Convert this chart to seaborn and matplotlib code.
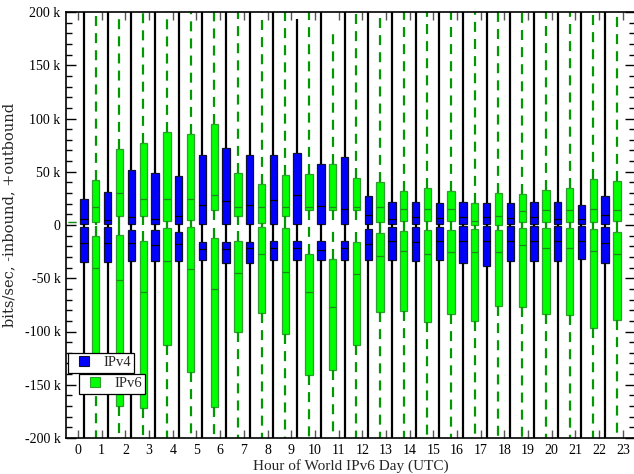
import numpy as np
import pandas as pd
import matplotlib
matplotlib.use("Agg")
import matplotlib.pyplot as plt
import seaborn as sns
from matplotlib.ticker import MultipleLocator, FuncFormatter, FixedLocator
from matplotlib.lines import Line2D

# ---------------- data (k bits/sec) ----------------
hours_v4 = [0, 1, 2, 3, 4, 5, 6, 7, 8, 9, 10, 11, 12, 13, 14, 15, 16, 17, 18, 19, 20, 21, 22]
hours_v6 = [0, 1, 2, 3, 4, 5, 6, 7, 8, 9, 10, 11, 12, 13, 14, 15, 16, 17, 18, 19, 20, 21, 22, 23]

# IPv4 outbound (positive)
v4_out_lo = [0, 0, 0, 0, 0, 0, 0, 0, 0, 0, 0, 0, 0, 0, 0, 0, 0, 0, 0, 0, 0, 0, 0]
v4_out_q1 = [1, 1, 0.7, 0.7, 0.7, 1, 1, 1, 1, 1, 1, 1, 1, 1, 1, 1, 0.6, 1, 1, 1, 1, 1, 1]
v4_out_med = [6, 5, 7.5, 6, 8, 19, 23, 19, 23.5, 27.9, 17.5, 14.7, 9, 5.3, 7.2, 6.3, 7.2, 7.2, 6.3, 7.2, 6, 5.6, 9]
v4_out_q3 = [24, 30.7, 51.3, 48.5, 45.7, 66, 72, 65.7, 65.7, 67.6, 57.3, 64, 27, 21.6, 21.9, 20.7, 21.6, 20.7, 20.7, 21.9, 21.3, 19, 26.9]
v4_out_hi = [250, 250, 250, 250, 250, 250, 250, 250, 250, 193, 250, 250, 250, 250, 250, 250, 250, 250, 250, 250, 250, 250, 250]

# IPv4 inbound (negative)
v4_in_lo = [-250, -250, -250, -250, -250, -250, -250, -250, -250, -250, -250, -250, -250, -250, -250, -250, -250, -250, -250, -250, -250, -250, -250]
v4_in_q1 = [-34.4, -35, -33.5, -33.5, -33.5, -32.9, -36, -36, -33.2, -33.2, -33.2, -33.2, -33.2, -33.2, -34, -33.2, -36, -38.5, -33.5, -33.5, -33.5, -32.2, -36]
v4_in_med = [-16.6, -17.2, -17, -18.5, -18, -22.5, -22.5, -21.6, -21.9, -21.6, -23.5, -21.9, -18.2, -14.7, -16.3, -15.3, -15, -15, -15, -15, -15, -15, -17.2]
v4_in_q3 = [-2.2, -2.2, -4.7, -4.7, -6.9, -15.6, -15.6, -15.6, -14.7, -15, -14.7, -14.7, -4.1, -1.6, -2.2, -1.6, -0.9, -0.9, -0.9, -0.9, -0.9, -0.9, -2.2]
v4_in_hi = [0, 0, 0, 0, 0, 0, 0, 0, 0, 0, 0, 0, 0, 0, 0, 0, 0, 0, 0, 0, 0, 0, 0]

# IPv6 outbound (positive)
v6_out_lo = [3, 0, 0, 0, 0, 0, 0, 0, 0, 0, 0, 0, 0, 0, 0, 0, 0, 0, 0, 0, 0, 0, 0, 0]
v6_out_q1 = [3, 3, 8.5, 8.5, 4, 5, 14, 8.5, 2, 8.5, 14.5, 14, 14, 3, 3.5, 4, 3.5, 0.3, 0.3, 2.5, 3, 2.8, 2.8, 4]
v6_out_med = [3, 16.6, 29.7, 24, 24.4, 24, 28.5, 17, 17, 17, 17, 17, 17, 17, 14.7, 14.7, 14.7, 4, 8.5, 12.8, 14.4, 14.4, 14.7, 14.4]
v6_out_q3 = [3, 42, 71, 76.7, 87, 85, 94.5, 49, 38.5, 47, 47.9, 57.3, 44, 40.7, 32, 34.4, 32.2, 20.3, 30.4, 29, 33, 34.4, 42.9, 41.3]
v6_out_hi = [3, 250, 250, 250, 250, 250, 250, 250, 250, 250, 250, 180, 250, 250, 250, 250, 250, 250, 250, 250, 250, 250, 250, 250]

# IPv6 inbound (negative)
nan = float("nan")
v6_in_lo = [nan, -250, -250, -250, -250, -250, -250, -250, -250, -250, -250, -250, -250, -250, -250, -250, -250, -250, -250, -250, -250, -250, -250, -250]
v6_in_q1 = [nan, -145, -170, -171.5, -112.7, -138, -171, -100.8, -83, -102.7, -140.8, -136, -113, -81.7, -80.8, -91.4, -83.3, -90.4, -75.8, -77.3, -83.3, -84.5, -96.7, -89.5]
v6_in_med = [nan, -40.7, -51.6, -63, -34, -41, -60.4, -45.4, -27.2, -44.4, -63, -77.3, -46, -29, -24.7, -27.2, -25, -25, -25, -18.5, -21.3, -21.9, -24.4, -27.5]
v6_in_q3 = [nan, -10, -9.4, -14.7, -3, -2.2, -12.5, -14.7, -1.6, -3, -27.5, -32.2, -15.6, -7.2, -5.3, -4.7, -4.7, -3.8, -4.7, -2.8, -3, -3, -3.8, -6.9]
v6_in_hi = [nan, 0, 0, 0, 0, 0, 0, 0, 0, 0, 0, 0, 0, 0, 0, 0, 0, 0, 0, 0, 0, 0, 0, 0]

y_ticks = [-200, -150, -100, -50, 0, 50, 100, 150, 200]
x_ticks = hours_v6
legend_labels = ["IPv4", "IPv6"]


def five_point_frame(hours, offset, lo, q1, med, q3, hi):
    """Five values per box: min, q1, median, q3, max -> exact box stats."""
    rows = []
    for h, a, b, c, d, e in zip(hours, lo, q1, med, q3, hi):
        if np.isnan(c):
            continue
        for v in (a, b, c, d, e):
            rows.append({"pos": h + offset, "val": v})
    return pd.DataFrame(rows)


sns.set_theme(style="ticks")
plt.rcParams["font.family"] = ["Liberation Serif", "DejaVu Serif"]
plt.rcParams["font.size"] = 10

fig = plt.figure(figsize=(6.34, 4.74), dpi=100)
ax = fig.add_axes([66.2 / 634, 36 / 474, (634.7 - 66.2) / 634, 426 / 474])

BLUE = "#0000ff"
GREEN = "#00ff00"
GREEN_WHISK = "#009a00"

v6_style = dict(
    color=GREEN, saturation=1, linecolor="#2e9e2e", linewidth=0.9,
    width=0.31, whis=np.inf, showcaps=False, native_scale=True, orient="x",
    whiskerprops=dict(color=GREEN_WHISK, linewidth=1.6, linestyle=(0, (4.5, 3.2))),
    medianprops=dict(color="#1a8a1a", linewidth=0.9),
)
v4_style = dict(
    color=BLUE, saturation=1, linecolor="#101030", linewidth=0.9,
    width=0.31, whis=np.inf, showcaps=False, native_scale=True, orient="x",
    whiskerprops=dict(color="black", linewidth=1.6, linestyle="-"),
    medianprops=dict(color="black", linewidth=0.9),
)

df6o = five_point_frame(hours_v6, -0.25, v6_out_lo, v6_out_q1, v6_out_med, v6_out_q3, v6_out_hi)
df6i = five_point_frame(hours_v6, -0.25, v6_in_lo, v6_in_q1, v6_in_med, v6_in_q3, v6_in_hi)
df4o = five_point_frame(hours_v4, 0.25, v4_out_lo, v4_out_q1, v4_out_med, v4_out_q3, v4_out_hi)
df4i = five_point_frame(hours_v4, 0.25, v4_in_lo, v4_in_q1, v4_in_med, v4_in_q3, v4_in_hi)

sns.boxplot(data=df6o, x="pos", y="val", ax=ax, **v6_style)
sns.boxplot(data=df6i, x="pos", y="val", ax=ax, **v6_style)
sns.boxplot(data=df4o, x="pos", y="val", ax=ax, **v4_style)
sns.boxplot(data=df4i, x="pos", y="val", ax=ax, **v4_style)

ax.set_xlim(-0.5, 23.5)
ax.set_ylim(-200, 200)
ax.xaxis.set_major_locator(FixedLocator(x_ticks))
ax.set_xticklabels([str(h) for h in x_ticks])
ax.yaxis.set_major_locator(FixedLocator(y_ticks))
ax.yaxis.set_minor_locator(MultipleLocator(10))
ax.yaxis.set_major_formatter(FuncFormatter(lambda v, p: "0" if v == 0 else f"{int(v)} k"))

ax.tick_params(axis="both", which="both", direction="in", top=True, right=True,
               colors="black", labelsize=10)
ax.tick_params(axis="y", which="major", length=7.2, width=1.0, pad=4)
ax.tick_params(axis="y", which="minor", length=4.3, width=1.0)
ax.tick_params(axis="x", which="major", length=6, width=1.0, color="#555555", pad=4)
ax.tick_params(axis="x", which="minor", bottom=False, top=False)
for s in ax.spines.values():
    s.set_linewidth(1.2)
    s.set_color("black")
    s.set_visible(True)

ax.set_xlabel("Hour of World IPv6 Day (UTC)", fontsize=11, labelpad=2)
ax.set_ylabel("bits/sec, -inbound, +outbound", fontsize=10.5,
              family=["DejaVu Serif"], labelpad=5)
ax.yaxis.set_label_coords(-0.088, 0.524)

# two separate, overlapping legend boxes
h4 = Line2D([], [], linestyle="none", marker="s", markersize=7,
            markerfacecolor=BLUE, markeredgecolor="#101030", markeredgewidth=0.8)
h6 = Line2D([], [], linestyle="none", marker="s", markersize=7,
            markerfacecolor=GREEN, markeredgecolor="#2e9e2e", markeredgewidth=0.8)
leg_kw = dict(loc="upper left", fontsize=10.5, frameon=True, fancybox=False,
              framealpha=1, edgecolor="black", borderpad=0.22, handlelength=1.7,
              handletextpad=0.5, borderaxespad=0, bbox_transform=fig.transFigure)
leg1 = ax.legend([h4], [legend_labels[0]], bbox_to_anchor=(68 / 634, 1 - 353 / 474), **leg_kw)
leg1.get_frame().set_linewidth(0.9)
ax.add_artist(leg1)
leg2 = ax.legend([h6], [legend_labels[1]], bbox_to_anchor=(79 / 634, 1 - 374 / 474), **leg_kw)
leg2.get_frame().set_linewidth(0.9)

fig.savefig("out.png", dpi=100)
